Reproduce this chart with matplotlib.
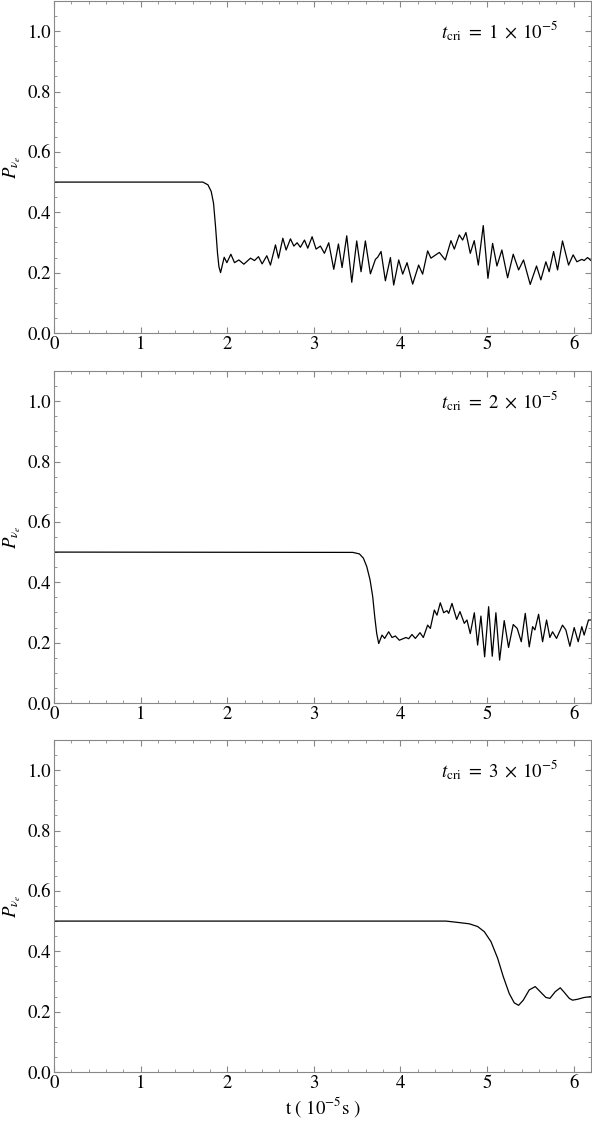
import matplotlib
matplotlib.use("Agg")
import matplotlib.pyplot as plt
from matplotlib.ticker import MultipleLocator

plt.rcParams['font.family'] = 'STIXGeneral'
plt.rcParams['mathtext.fontset'] = 'stix'

# panel 1: t_cri = 1e-5
t1 = [0.0, 1.565, 1.719, 1.777, 1.815, 1.842, 1.865, 1.888, 1.904, 1.923, 1.965, 1.996, 2.042, 2.084,
      2.134, 2.192, 2.269, 2.315, 2.361, 2.403, 2.457, 2.499, 2.557, 2.592, 2.642, 2.680, 2.730, 2.769,
      2.807, 2.845, 2.892, 2.930, 2.980, 3.026, 3.076, 3.122, 3.172, 3.230, 3.284, 3.326, 3.380, 3.438,
      3.495, 3.545, 3.595, 3.653, 3.711, 3.737, 3.776, 3.826, 3.884, 3.922, 3.980, 4.026, 4.076, 4.141,
      4.210, 4.256, 4.314, 4.352, 4.449, 4.518, 4.583, 4.622, 4.679, 4.718, 4.756, 4.806, 4.852, 4.899,
      4.956, 5.010, 5.064, 5.114, 5.171, 5.237, 5.302, 5.364, 5.421, 5.498, 5.571, 5.621, 5.679, 5.717,
      5.768, 5.814, 5.871, 5.941, 5.994, 6.037, 6.094, 6.121, 6.160, 6.200]
p1 = [0.500, 0.500, 0.500, 0.491, 0.469, 0.430, 0.353, 0.264, 0.220, 0.200, 0.251, 0.233, 0.261, 0.233,
      0.242, 0.228, 0.248, 0.240, 0.253, 0.229, 0.256, 0.225, 0.292, 0.248, 0.314, 0.275, 0.312, 0.288,
      0.299, 0.284, 0.308, 0.281, 0.319, 0.278, 0.288, 0.264, 0.299, 0.211, 0.295, 0.217, 0.322, 0.168,
      0.305, 0.203, 0.305, 0.196, 0.244, 0.251, 0.270, 0.173, 0.250, 0.159, 0.242, 0.195, 0.233, 0.162,
      0.225, 0.195, 0.272, 0.248, 0.267, 0.242, 0.306, 0.278, 0.325, 0.308, 0.333, 0.264, 0.306, 0.225,
      0.356, 0.181, 0.297, 0.222, 0.275, 0.183, 0.261, 0.209, 0.242, 0.161, 0.222, 0.176, 0.236, 0.203,
      0.270, 0.209, 0.305, 0.225, 0.259, 0.236, 0.244, 0.240, 0.250, 0.240]

# panel 2: t_cri = 2e-5
t2 = [0.0, 3.450, 3.526, 3.572, 3.611, 3.649, 3.680, 3.703, 3.726, 3.749, 3.787, 3.818, 3.864, 3.903,
      3.941, 3.987, 4.064, 4.095, 4.133, 4.172, 4.226, 4.264, 4.314, 4.345, 4.391, 4.422, 4.460, 4.499,
      4.537, 4.557, 4.595, 4.649, 4.687, 4.737, 4.768, 4.806, 4.853, 4.891, 4.929, 4.972, 5.018, 5.060,
      5.102, 5.145, 5.198, 5.248, 5.302, 5.348, 5.395, 5.441, 5.487, 5.526, 5.552, 5.595, 5.641, 5.687,
      5.725, 5.756, 5.802, 5.871, 5.910, 5.956, 6.006, 6.052, 6.094, 6.121, 6.171, 6.200]
p2 = [0.500, 0.499, 0.494, 0.480, 0.452, 0.408, 0.352, 0.286, 0.230, 0.197, 0.225, 0.214, 0.236, 0.217,
      0.222, 0.208, 0.217, 0.213, 0.227, 0.214, 0.233, 0.217, 0.258, 0.247, 0.308, 0.291, 0.332, 0.299,
      0.306, 0.297, 0.330, 0.277, 0.303, 0.264, 0.275, 0.230, 0.299, 0.192, 0.288, 0.153, 0.319, 0.155,
      0.299, 0.142, 0.273, 0.184, 0.260, 0.247, 0.203, 0.297, 0.186, 0.253, 0.242, 0.294, 0.203, 0.275,
      0.217, 0.236, 0.214, 0.258, 0.242, 0.188, 0.250, 0.203, 0.253, 0.225, 0.275, 0.275]

# panel 3: t_cri = 3e-5
t3 = [0.0, 4.526, 4.680, 4.795, 4.891, 4.968, 5.045, 5.122, 5.187, 5.256, 5.314, 5.364, 5.418, 5.487,
      5.556, 5.614, 5.679, 5.726, 5.787, 5.845, 5.891, 5.949, 5.987, 6.045, 6.083, 6.122, 6.179, 6.200]
p3 = [0.500, 0.500, 0.495, 0.491, 0.482, 0.465, 0.432, 0.377, 0.316, 0.260, 0.229, 0.221, 0.238, 0.272,
      0.283, 0.266, 0.247, 0.244, 0.266, 0.279, 0.264, 0.244, 0.238, 0.241, 0.244, 0.247, 0.249, 0.250]

series = [(t1, p1), (t2, p2), (t3, p3)]
tcri_labels = [r'$t_{\rm cri}\ =\ 1\;\times\;10^{-5}$', r'$t_{\rm cri}\ =\ 2\;\times\;10^{-5}$',
               r'$t_{\rm cri}\ =\ 3\;\times\;10^{-5}$']

fig = plt.figure(figsize=(5.92, 11.28), dpi=100)
lefts = 54 / 592; width = 537 / 592; height = 332 / 1128
bottoms = [(1128 - 333) / 1128, (1128 - 703) / 1128, (1128 - 1072) / 1128]

for i, ((t, p), lab) in enumerate(zip(series, tcri_labels)):
    ax = fig.add_axes([lefts, bottoms[i], width, height])
    ax.plot(t, p, color='black', lw=0.9, solid_joinstyle='round')
    ax.set_xlim(0, 6.2); ax.set_ylim(0, 1.1)
    ax.xaxis.set_major_locator(MultipleLocator(1)); ax.xaxis.set_minor_locator(MultipleLocator(0.2))
    ax.yaxis.set_major_locator(MultipleLocator(0.2)); ax.yaxis.set_minor_locator(MultipleLocator(0.05))
    ax.yaxis.set_major_formatter(matplotlib.ticker.FormatStrFormatter('%.1f'))
    for s in ax.spines.values(): s.set_color('#888888'); s.set_linewidth(0.8)
    ax.tick_params(which='both', direction='in', top=True, right=True, color='#888888', labelsize=13.5, pad=2)
    ax.tick_params(which='major', length=4, width=0.8); ax.tick_params(which='minor', length=2.5, width=0.6)
    ax.set_ylabel(r'$P_{\nu_e}$', fontsize=13.5, labelpad=3)
    ax.text(5.82, 1.0, lab, ha='right', va='center', fontsize=13.5)
    if i == 2:
        ax.set_xlabel(r't ( $10^{-5}$s )', fontsize=13.5, labelpad=2)

fig.savefig('out.png', dpi=100)
